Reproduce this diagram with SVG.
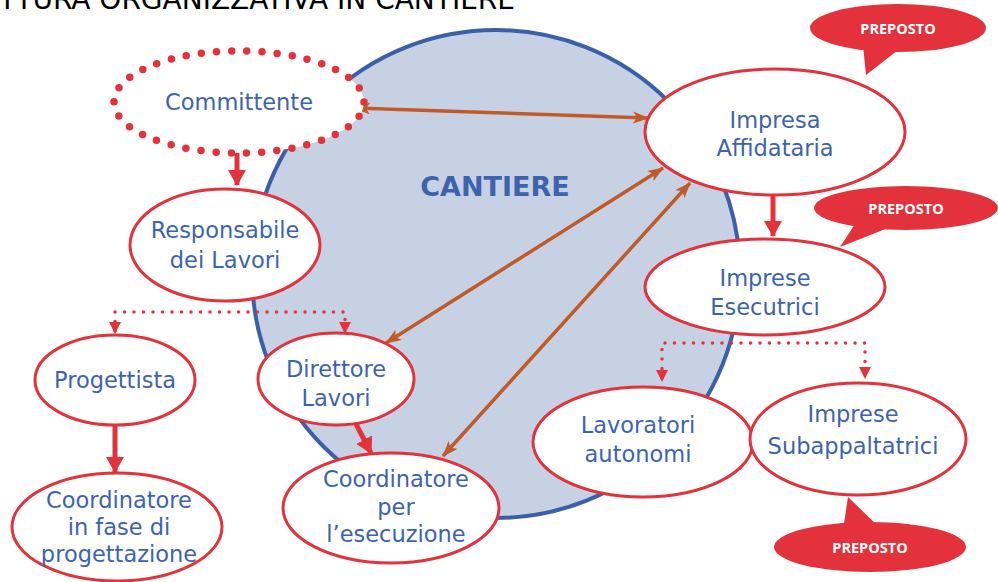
<svg xmlns="http://www.w3.org/2000/svg" width="998" height="582" viewBox="0 0 998 582">
<style>
.node{fill:#fff;stroke:#e3323b;stroke-width:3}
.lbl{font-family:"DejaVu Sans",sans-serif;font-size:22.5px;fill:#3d63ad;text-anchor:middle}
.brown{stroke:#c05a28;stroke-width:3.5;fill:none;marker-start:url(#bh);marker-end:url(#bh)}
.red{stroke:#e3323b;stroke-width:5;fill:none;marker-end:url(#rh)}
.dot{stroke:#e3323b;stroke-width:3.5;fill:none;stroke-dasharray:0 9.5;stroke-linecap:round}
.prep{fill:#e3323b}
.ptxt{font-family:"Open Sans","DejaVu Sans",sans-serif;font-weight:bold;font-size:14.5px;fill:#fff;text-anchor:middle}
</style>
<defs>
<marker id="bh" viewBox="0 0 16 12" refX="15" refY="6" markerWidth="16" markerHeight="12" markerUnits="userSpaceOnUse" orient="auto-start-reverse"><path d="M0,0 L16,6 L0,12 L4,6 Z" fill="#c05a28"/></marker>
<marker id="rh" viewBox="0 0 16 18" refX="15" refY="9" markerWidth="16" markerHeight="18" markerUnits="userSpaceOnUse" orient="auto"><path d="M0,0 L16,9 L0,18 Z" fill="#e3323b"/></marker>
</defs>
<rect width="998" height="582" fill="#fff"/>
<text x="515" y="9" font-family="'DejaVu Sans',sans-serif" font-size="28" fill="#000" text-anchor="end">STRUTTURA ORGANIZZATIVA IN CANTIERE</text>
<g id="cantiere">
<circle cx="496" cy="274" r="244" fill="#c6d1e4" stroke="#3b60a8" stroke-width="4"/>
<text x="495" y="196" font-family="'DejaVu Sans',sans-serif" font-weight="bold" font-size="27" fill="#3d63ad" text-anchor="middle">CANTIERE</text>
</g>
<g id="connectors">
<line class="brown" x1="355" y1="108" x2="648" y2="118"/>
<line class="brown" x1="663" y1="168" x2="386" y2="343"/>
<line class="brown" x1="690" y1="183" x2="443" y2="456"/>
<line class="red" x1="237" y1="150" x2="237" y2="185"/>
<line class="red" x1="115" y1="426" x2="115" y2="472"/>
<line class="red" x1="356" y1="424" x2="371" y2="453"/>
<line class="red" x1="773" y1="195" x2="773" y2="236"/>
<path class="dot" d="M115,331 L115,312 L345,312 L345,331"/>
<path d="M109,322 L121,322 L115,334 Z" fill="#e3323b"/>
<path d="M339,322 L351,322 L345,334 Z" fill="#e3323b"/>
<path class="dot" d="M662,378 L662,343 L865,343 L865,375"/>
<path d="M656,370 L668,370 L662,382 Z" fill="#e3323b"/>
<path d="M859,367 L871,367 L865,379 Z" fill="#e3323b"/>
</g>
<g id="committente">
<ellipse cx="239" cy="102" rx="125" ry="51" fill="#fff" stroke="#e3323b" stroke-width="7.5" stroke-dasharray="0 15.2" stroke-linecap="round"/>
<text class="lbl" x="239" y="110">Committente</text>
</g>
<g id="impresa-affidataria">
<ellipse class="node" cx="775" cy="132" rx="130" ry="63"/>
<text class="lbl" x="775" y="128">Impresa</text>
<text class="lbl" x="775" y="156">Affidataria</text>
</g>
<g id="responsabile">
<ellipse class="node" cx="225" cy="245" rx="95" ry="56"/>
<text class="lbl" x="225" y="238">Responsabile</text>
<text class="lbl" x="225" y="268">dei Lavori</text>
</g>
<g id="imprese-esecutrici">
<ellipse class="node" cx="765" cy="287" rx="120" ry="48"/>
<text class="lbl" x="765" y="286">Imprese</text>
<text class="lbl" x="765" y="315">Esecutrici</text>
</g>
<g id="progettista">
<ellipse class="node" cx="115" cy="380" rx="80" ry="45"/>
<text class="lbl" x="115" y="388">Progettista</text>
</g>
<g id="direttore">
<ellipse class="node" cx="336" cy="379" rx="78" ry="46"/>
<text class="lbl" x="336" y="377">Direttore</text>
<text class="lbl" x="336" y="406">Lavori</text>
</g>
<g id="coord-esecuzione">
<ellipse class="node" cx="391" cy="508" rx="108" ry="55"/>
<text class="lbl" x="396" y="487">Coordinatore</text>
<text class="lbl" x="396" y="515">per</text>
<text class="lbl" x="396" y="542">l’esecuzione</text>
</g>
<g id="lavoratori-autonomi">
<ellipse class="node" cx="643" cy="442" rx="110" ry="55"/>
<text class="lbl" x="638" y="433">Lavoratori</text>
<text class="lbl" x="638" y="462">autonomi</text>
</g>
<g id="subappaltatrici">
<ellipse class="node" cx="858" cy="439" rx="108" ry="56"/>
<text class="lbl" x="853" y="422">Imprese</text>
<text class="lbl" x="853" y="454">Subappaltatrici</text>
</g>
<g id="coord-progettazione">
<ellipse class="node" cx="117" cy="527" rx="105" ry="54"/>
<text class="lbl" x="119" y="508">Coordinatore</text>
<text class="lbl" x="119" y="535">in fase di</text>
<text class="lbl" x="119" y="562">progettazione</text>
</g>
<g id="preposto-1">
<path class="prep" d="M863,45 L866,75 L902,47 Z"/>
<ellipse class="prep" cx="898" cy="28" rx="88" ry="24"/>
<text class="ptxt" x="898" y="34">PREPOSTO</text>
</g>
<g id="preposto-2">
<path class="prep" d="M855,224 L840,247 L893,226 Z"/>
<ellipse class="prep" cx="906" cy="208" rx="92" ry="22"/>
<text class="ptxt" x="906" y="214">PREPOSTO</text>
</g>
<g id="preposto-3">
<path class="prep" d="M843,530 L848,497 L880,528 Z"/>
<ellipse class="prep" cx="870" cy="547" rx="96" ry="25"/>
<text class="ptxt" x="870" y="553">PREPOSTO</text>
</g>
</svg>
